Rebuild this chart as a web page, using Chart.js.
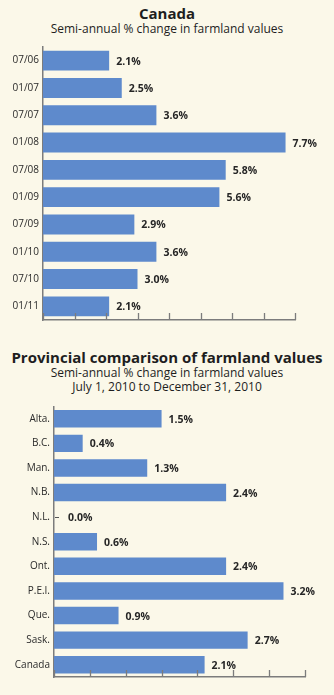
<!DOCTYPE html>
<html>
<head>
<meta charset="utf-8">
<script src="https://cdn.jsdelivr.net/npm/chart.js@4/dist/chart.umd.min.js"></script>
<style>
  html, body { margin: 0; padding: 0; }
  body { width: 334px; height: 695px; background: #fbf8e9; position: relative; overflow: hidden;
         font-family: "Open Sans", sans-serif; color: #1e1e1e; }
  .txt { position: absolute; left: 0; width: 334px; text-align: center; white-space: nowrap; }
  .title { font-weight: bold; font-size: 15px; line-height: 18px; }
  .sub { font-size: 12px; line-height: 14px; }
  canvas { position: absolute; left: 0; }
</style>
</head>
<body>
<div class="txt title" style="top:4px">Canada</div>
<div class="txt sub" style="top:22px">Semi-annual % change in farmland values</div>
<canvas id="canada-chart" width="334" height="330" style="top:0"></canvas>

<div class="txt title" style="top:348px">Provincial comparison of farmland values</div>
<div class="txt sub" style="top:366px">Semi-annual % change in farmland values</div>
<div class="txt sub" style="top:380px">July 1, 2010 to December 31, 2010</div>
<canvas id="province-chart" width="334" height="355" style="top:340px"></canvas>

<script>
const periods = ['07/06', '01/07', '07/07', '01/08', '07/08', '01/09', '07/09', '01/10', '07/10', '01/11'];
const canadaChange = [2.1, 2.5, 3.6, 7.7, 5.8, 5.6, 2.9, 3.6, 3.0, 2.1];

const provinces = ['Alta.', 'B.C.', 'Man.', 'N.B.', 'N.L.', 'N.S.', 'Ont.', 'P.E.I.', 'Que.', 'Sask.', 'Canada'];
const provinceChange = [1.5, 0.4, 1.3, 2.4, 0.0, 0.6, 2.4, 3.2, 0.9, 2.7, 2.1];

const barColor = '#5e8acc';
const axisColor = '#7c7c7c';
const labelFont = { family: 'Open Sans', size: 10 };

// small tick marks pointing up from the x axis
const upTicks = {
    id: 'upTicks',
    afterDraw(chart) {
        const ctx = chart.ctx;
        const xs = chart.scales.x;
        const bottom = chart.chartArea.bottom;
        ctx.save();
        ctx.strokeStyle = axisColor;
        ctx.lineWidth = 1.3;
        xs.ticks.forEach(t => {
            const px = Math.round(xs.getPixelForValue(t.value)) + 0.5;
            ctx.beginPath();
            ctx.moveTo(px, bottom);
            ctx.lineTo(px, bottom - 7);
            ctx.stroke();
        });
        ctx.restore();
    }
};

// value labels at the end of each bar
const valueLabels = {
    id: 'valueLabels',
    afterDatasetsDraw(chart) {
        const ctx = chart.ctx;
        const meta = chart.getDatasetMeta(0);
        const values = chart.data.datasets[0].data;
        ctx.save();
        ctx.font = 'bold 10.5px "Open Sans"';
        ctx.fillStyle = '#262626';
        ctx.textBaseline = 'middle';
        meta.data.forEach((bar, i) => {
            let offset = 7;
            if (values[i] === 0) {
                ctx.strokeStyle = '#555';
                ctx.lineWidth = 1;
                ctx.beginPath();
                ctx.moveTo(bar.x + 1, Math.round(bar.y) + 0.5);
                ctx.lineTo(bar.x + 5, Math.round(bar.y) + 0.5);
                ctx.stroke();
                offset = 14;
            }
            ctx.fillText(values[i].toFixed(1) + '%', bar.x + offset, bar.y + 1);
        });
        ctx.restore();
    }
};

function makeChart(id, labels, data, opts) {
    return new Chart(document.getElementById(id), {
        type: 'bar',
        data: {
            labels: labels,
            datasets: [{
                data: data,
                backgroundColor: barColor,
                borderWidth: 0,
                categoryPercentage: 1,
                barPercentage: opts.barPct
            }]
        },
        options: {
            indexAxis: 'y',
            responsive: false,
            animation: false,
            layout: { padding: opts.padding },
            plugins: { legend: { display: false }, tooltip: { enabled: false } },
            scales: {
                x: {
                    type: 'linear',
                    min: 0,
                    max: opts.xMax,
                    ticks: { display: false, stepSize: opts.step },
                    grid: { display: false, drawTicks: false },
                    border: { display: true, color: axisColor, width: 1.5 },
                    afterFit: s => { s.height = 0; }
                },
                y: {
                    grid: { display: false, drawTicks: false },
                    border: { display: true, color: axisColor, width: 1.5 },
                    ticks: { font: labelFont, color: '#2a2a2a', padding: 4 },
                    afterFit: s => { s.width = opts.yWidth; },
                    afterBuildTicks: s => { s.max = s.max - opts.trimEnd; }
                }
            }
        },
        plugins: [upTicks, valueLabels]
    });
}

makeChart('canada-chart', periods, canadaChange, {
    xMax: 8, step: 1, yWidth: 43, barPct: 0.73, trimEnd: 0,
    padding: { top: 47, bottom: 10, right: 39, left: 0 }
});

makeChart('province-chart', provinces, provinceChange, {
    xMax: 3.5, step: 0.5, yWidth: 54, barPct: 0.71, trimEnd: 0.1,
    padding: { top: 66.5, bottom: 18, right: 29, left: 0 }
});
</script>
</body>
</html>
